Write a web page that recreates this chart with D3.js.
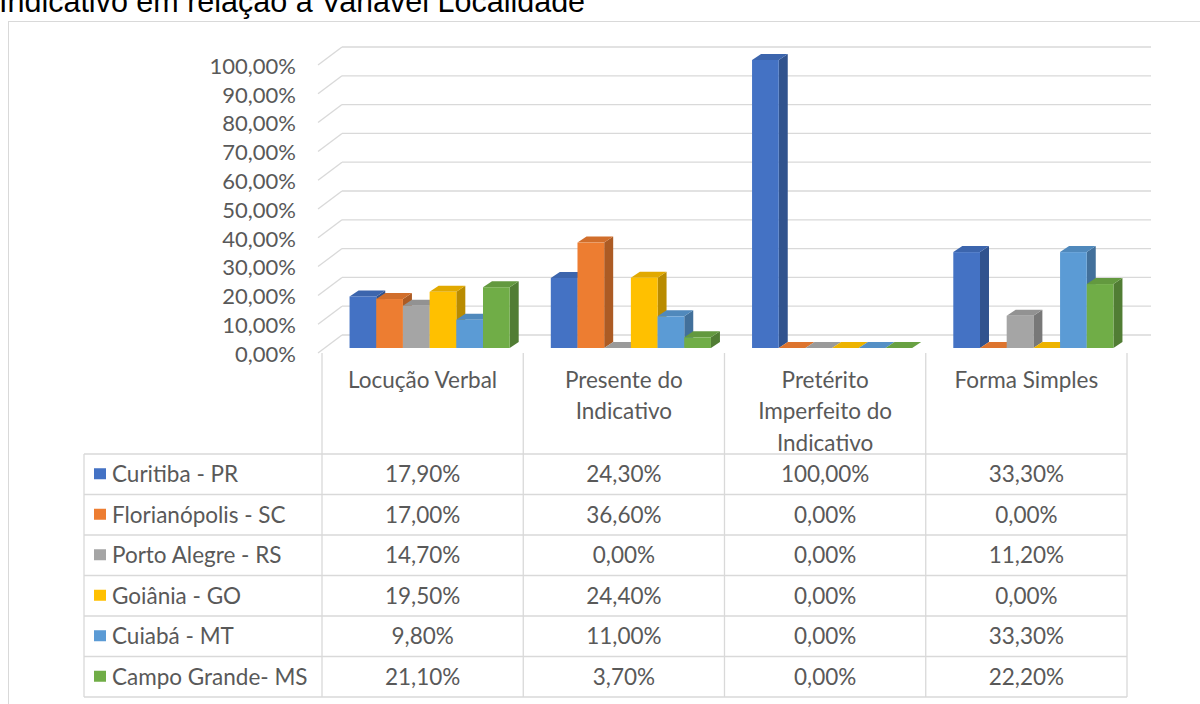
<!DOCTYPE html>
<html>
<head>
<meta charset="utf-8">
<script src="https://cdn.jsdelivr.net/npm/d3@7"></script>
<style>
  html, body { margin: 0; padding: 0; background: #ffffff; }
  svg { display: block; }
  text { font-family: Lato, "Noto Sans", sans-serif; fill: #595959; }
</style>
</head>
<body>
<svg id="chart" width="1200" height="704"></svg>
<script>
// ---------- DATA ----------
const titleText = "Indicativo em relação à Variável Localidade";
const categories = ["Locução Verbal", "Presente do Indicativo", "Pretérito Imperfeito do Indicativo", "Forma Simples"];
const categoryLabelLines = [["Locução Verbal"], ["Presente do", "Indicativo"], ["Pretérito", "Imperfeito do", "Indicativo"], ["Forma Simples"]];
const seriesNames = ["Curitiba - PR", "Florianópolis - SC", "Porto Alegre - RS", "Goiânia - GO", "Cuiabá - MT", "Campo Grande- MS"];
const curitiba     = [17.9, 24.3, 100.0, 33.3];
const florianopolis = [17.0, 36.6, 0.0, 0.0];
const portoAlegre  = [14.7, 0.0, 0.0, 11.2];
const goiania      = [19.5, 24.4, 0.0, 0.0];
const cuiaba       = [9.8, 11.0, 0.0, 33.3];
const campoGrande  = [21.1, 3.7, 0.0, 22.2];
const seriesValues = [curitiba, florianopolis, portoAlegre, goiania, cuiaba, campoGrande];
const seriesColors = ["#4472C4", "#ED7D31", "#A5A5A5", "#FFC000", "#5B9BD5", "#70AD47"];
const yTicks = [0, 10, 20, 30, 40, 50, 60, 70, 80, 90, 100];

// ---------- LAYOUT ----------
const svg = d3.select("#chart");
const fontSize = 22.5;
const axisFontSize = 22;
const pct = v => d3.format(".2f")(v).replace(".", ",") + "%";

// chart frame
svg.append("rect").attr("x", 8.5).attr("y", 21.5).attr("width", 1300).attr("height", 800)
  .attr("fill", "#fff").attr("stroke", "#d9d9d9").attr("stroke-width", 1);

// title (cut at top, as in the source image)
svg.append("text").attr("x", -1).attr("y", 12)
  .style("font-family", "'Liberation Sans', Arial, sans-serif")
  .style("font-size", "30.5px").style("fill", "#000")
  .text(titleText);

const colLeft = 322, colRight = 1127;
const depthDx = 24, depthDy = -18;   // full floor depth
const x0 = d3.scaleBand().domain(categories).range([colLeft, colRight]);
const x1 = d3.scaleBand().domain(seriesNames).range([0, x0.bandwidth()]).paddingInner(0).paddingOuter(0.77);

const yBack = d3.scaleLinear().domain([0, 100]).range([335, 47]);   // back wall gridlines
const hScale = d3.scaleLinear().domain([0, 100]).range([0, 288]);   // bar heights

// gridlines: back wall + left side wall diagonals
const grid = svg.append("g").attr("stroke", "#d9d9d9").attr("stroke-width", 1.3).attr("fill", "none");
yTicks.forEach(t => {
  const yb = yBack(t);
  grid.append("line").attr("x1", colLeft - 4 + depthDx).attr("x2", colRight + depthDx)
    .attr("y1", yb).attr("y2", yb);
  grid.append("line").attr("x1", colLeft - 4).attr("y1", yb - depthDy)
    .attr("x2", colLeft - 4 + depthDx).attr("y2", yb);
});

// y axis labels
svg.append("g").selectAll("text").data(yTicks).join("text")
  .attr("x", 296).attr("y", d => yBack(d) - depthDy + 1)
  .attr("dy", "0.35em").attr("text-anchor", "end")
  .style("font-size", axisFontSize + "px")
  .text(d => pct(d));

// bars (3D)
const barDepthFront = 7, baseY = 348;   // front face offset into floor
const bdx = 9, bdy = -6;                // bar depth
const bars = svg.append("g");
categories.forEach((cat, ci) => {
  seriesNames.forEach((s, si) => {
    const v = seriesValues[si][ci];
    const xl = x0(cat) + x1(s) + barDepthFront;
    const w = x1.bandwidth();
    const h = hScale(v);
    const yt = baseY - h;
    const base = d3.color(seriesColors[si]);
    // side
    bars.append("path")
      .attr("d", `M${xl + w},${baseY} L${xl + w + bdx},${baseY + bdy} L${xl + w + bdx},${yt + bdy} L${xl + w},${yt} Z`)
      .attr("fill", base.darker(0.9));
    // top
    bars.append("path")
      .attr("d", `M${xl},${yt} L${xl + bdx},${yt + bdy} L${xl + w + bdx},${yt + bdy} L${xl + w},${yt} Z`)
      .attr("fill", v === 0 ? base.darker(0.2) : base.darker(0.35));
    // front
    if (h > 0) {
      bars.append("rect").attr("x", xl).attr("y", yt).attr("width", w).attr("height", h)
        .attr("fill", base);
    }
  });
});

// ---------- DATA TABLE ----------
const tableTop = 353, headerBottom = 454, tableLeft = 84, rowH = 40.5;
const tableBottom = headerBottom + rowH * seriesNames.length;
const tg = svg.append("g").attr("stroke", "#d9d9d9").attr("stroke-width", 1.3);
x0.domain().forEach(c => {
  tg.append("line").attr("x1", x0(c)).attr("x2", x0(c)).attr("y1", tableTop).attr("y2", tableBottom);
});
tg.append("line").attr("x1", colRight).attr("x2", colRight).attr("y1", tableTop).attr("y2", tableBottom);
for (let i = 0; i <= seriesNames.length; i++) {
  const y = headerBottom + rowH * i;
  tg.append("line").attr("x1", tableLeft).attr("x2", colRight).attr("y1", y).attr("y2", y);
}
tg.append("line").attr("x1", tableLeft).attr("x2", tableLeft).attr("y1", headerBottom).attr("y2", tableBottom);

// header labels
categories.forEach((c, ci) => {
  const cx = x0(c) + x0.bandwidth() / 2;
  categoryLabelLines[ci].forEach((ln, li) => {
    svg.append("text").attr("x", cx).attr("y", 380 + li * 31.5).attr("dy", "0.35em")
      .attr("text-anchor", "middle").style("font-size", fontSize + "px").text(ln);
  });
});

// rows
seriesNames.forEach((s, si) => {
  const cy = headerBottom + rowH * (si + 0.5);
  svg.append("rect").attr("x", 94).attr("y", cy - 6).attr("width", 12).attr("height", 11)
    .attr("fill", seriesColors[si]);
  svg.append("text").attr("x", 112).attr("y", cy).attr("dy", "0.35em")
    .style("font-size", fontSize + "px").text(s);
  categories.forEach((c, ci) => {
    svg.append("text").attr("x", x0(c) + x0.bandwidth() / 2).attr("y", cy).attr("dy", "0.35em")
      .attr("text-anchor", "middle").style("font-size", fontSize + "px")
      .text(pct(seriesValues[si][ci]));
  });
});
</script>
</body>
</html>
